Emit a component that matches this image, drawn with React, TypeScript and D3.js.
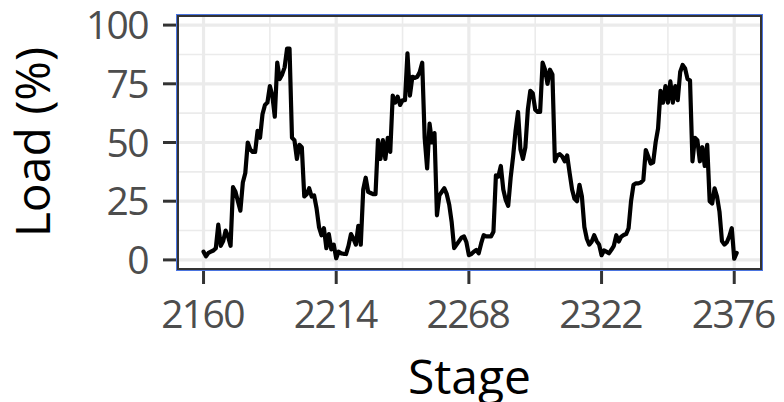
import React, { useRef, useEffect } from 'react';
import * as d3 from 'd3';

// Load (%) per stage, starting at stage 2160
const startStage = 2160;
const load: number[] = [
  3.5, 1.5, 3, 3.5, 4, 5, 15, 6, 8, 12.5,
  10, 6, 31, 29, 25, 21, 33, 37, 50, 47,
  46, 46, 55, 52, 62, 66, 67, 74, 70, 61,
  84, 77, 79, 82, 90, 90, 52, 51, 43, 49,
  48, 27, 28, 30.5, 27, 27.5, 22, 14, 10.5, 13.5,
  5, 11, 4.5, 6.5, 0.7, 3.5, 2.8, 2.6, 2.5, 6,
  11, 9, 6.5, 14.5, 6.5, 30, 35, 29, 28.5, 28,
  28, 51, 43, 51, 43, 52, 46, 70, 67, 69.5,
  66, 68, 68, 88, 70, 78, 77.5, 78, 80, 84,
  52, 39, 58, 50, 54, 19, 27.5, 29, 30.5, 28,
  23.5, 16, 5, 6.5, 8, 9.5, 10, 7.5, 2, 2.5,
  3.5, 4.2, 2.8, 7, 10.5, 10, 10, 10, 12, 36,
  35.5, 40, 30, 25.5, 23, 35, 44, 55, 63, 47,
  43, 48, 64, 72, 71, 64, 63, 63, 84, 81,
  75, 81, 79, 42, 44.5, 45, 44, 42, 44.5, 37,
  30, 26, 25, 32, 27, 14, 9, 6.5, 7.8, 10.5,
  8, 6.5, 2, 4, 3.5, 2.8, 4.3, 6, 10.5, 7.8,
  9.9, 10.6, 11, 13.5, 25, 32, 32.6, 32.6, 33, 34,
  46.8, 44, 41, 41.5, 50, 56, 72, 67, 74, 67,
  76, 67, 74, 68, 80, 83, 81.5, 77, 76.5, 42,
  52, 51, 42, 48, 40, 49, 25, 24, 30.5, 27,
  20.5, 8, 6.5, 7.5, 10, 13.5, 0.5, 3
];

const xTicks = [2160, 2214, 2268, 2322, 2376];
const xMinor = [2187, 2241, 2295, 2349];
const yTicks = [0, 25, 50, 75, 100];
const yMinor = [12.5, 37.5, 62.5, 87.5];

const width = 784;
const height = 402;

const App: React.FC = () => {
  const svgRef = useRef<SVGSVGElement>(null);

  useEffect(() => {
    if (!svgRef.current) return;
    const svg = d3.select(svgRef.current);
    svg.selectAll('*').remove();

    const panel = { left: 177, right: 762, top: 15, bottom: 270 };

    const x = d3.scaleLinear()
      .domain([2149.2, 2387.3])
      .range([panel.left, panel.right]);
    const y = d3.scaleLinear()
      .domain([-4.3, 104.3])
      .range([panel.bottom, panel.top]);

    const font = "'Open Sans', sans-serif";

    // panel background
    svg.append('rect')
      .attr('x', panel.left).attr('y', panel.top)
      .attr('width', panel.right - panel.left)
      .attr('height', panel.bottom - panel.top)
      .attr('fill', 'white');

    // minor grid
    const grid = svg.append('g');
    xMinor.forEach(v => {
      grid.append('line')
        .attr('x1', x(v)).attr('x2', x(v))
        .attr('y1', panel.top).attr('y2', panel.bottom)
        .attr('stroke', '#ebebeb').attr('stroke-width', 1.6);
    });
    yMinor.forEach(v => {
      grid.append('line')
        .attr('x1', panel.left).attr('x2', panel.right)
        .attr('y1', y(v)).attr('y2', y(v))
        .attr('stroke', '#ebebeb').attr('stroke-width', 1.6);
    });
    // major grid
    xTicks.forEach(v => {
      grid.append('line')
        .attr('x1', x(v)).attr('x2', x(v))
        .attr('y1', panel.top).attr('y2', panel.bottom)
        .attr('stroke', '#ebebeb').attr('stroke-width', 3.2);
    });
    yTicks.forEach(v => {
      grid.append('line')
        .attr('x1', panel.left).attr('x2', panel.right)
        .attr('y1', y(v)).attr('y2', y(v))
        .attr('stroke', '#ebebeb').attr('stroke-width', 3.2);
    });

    // load line
    const line = d3.line<number>()
      .x((_, i) => x(startStage + i))
      .y(d => y(d));

    svg.append('path')
      .datum(load)
      .attr('fill', 'none')
      .attr('stroke', 'black')
      .attr('stroke-width', 4.2)
      .attr('stroke-linejoin', 'round')
      .attr('stroke-linecap', 'round')
      .attr('d', line);

    // panel border (blue outer hairline + dark gray)
    svg.append('rect')
      .attr('x', panel.left - 0.5).attr('y', panel.top - 0.5)
      .attr('width', panel.right - panel.left + 1)
      .attr('height', panel.bottom - panel.top + 1)
      .attr('fill', 'none')
      .attr('stroke', '#4a74e0')
      .attr('stroke-width', 1);
    svg.append('rect')
      .attr('x', panel.left + 1).attr('y', panel.top + 1)
      .attr('width', panel.right - panel.left - 2)
      .attr('height', panel.bottom - panel.top - 2)
      .attr('fill', 'none')
      .attr('stroke', '#333333')
      .attr('stroke-width', 2);

    // x axis ticks and labels
    const xAxis = svg.append('g');
    xTicks.forEach(v => {
      xAxis.append('line')
        .attr('x1', x(v)).attr('x2', x(v))
        .attr('y1', panel.bottom + 1).attr('y2', panel.bottom + 14)
        .attr('stroke', '#333333').attr('stroke-width', 3);
      xAxis.append('text')
        .attr('x', x(v) - 1)
        .attr('y', 328)
        .attr('text-anchor', 'middle')
        .style('font-family', font)
        .style('font-size', '39px')
        .style('letter-spacing', '-1.6px')
        .style('fill', '#4d4d4d')
        .text(v);
    });

    // y axis ticks and labels
    const yAxis = svg.append('g');
    yTicks.forEach(v => {
      yAxis.append('line')
        .attr('x1', panel.left - 14).attr('x2', panel.left - 1)
        .attr('y1', y(v)).attr('y2', y(v))
        .attr('stroke', '#333333').attr('stroke-width', 3);
      yAxis.append('text')
        .attr('x', 148)
        .attr('y', y(v) + 14)
        .attr('text-anchor', 'end')
        .style('font-family', font)
        .style('font-size', '39px')
        .style('letter-spacing', '-1.6px')
        .style('fill', '#4d4d4d')
        .text(v);
    });

    // axis titles
    svg.append('text')
      .attr('x', (panel.left + panel.right) / 2)
      .attr('y', 394)
      .attr('text-anchor', 'middle')
      .style('font-family', font)
      .style('font-size', '48px')
      .style('fill', 'black')
      .text('Stage');

    svg.append('text')
      .attr('transform', `translate(50, 142) rotate(-90)`)
      .attr('text-anchor', 'middle')
      .style('font-family', font)
      .style('font-size', '48px')
      .style('fill', 'black')
      .text('Load (%)');
  }, []);

  return (
    <div style={{ position: 'absolute', left: 0, top: 0 }}>
      <svg ref={svgRef} width={width} height={height} style={{ display: 'block' }} />
    </div>
  );
};

export default App;
